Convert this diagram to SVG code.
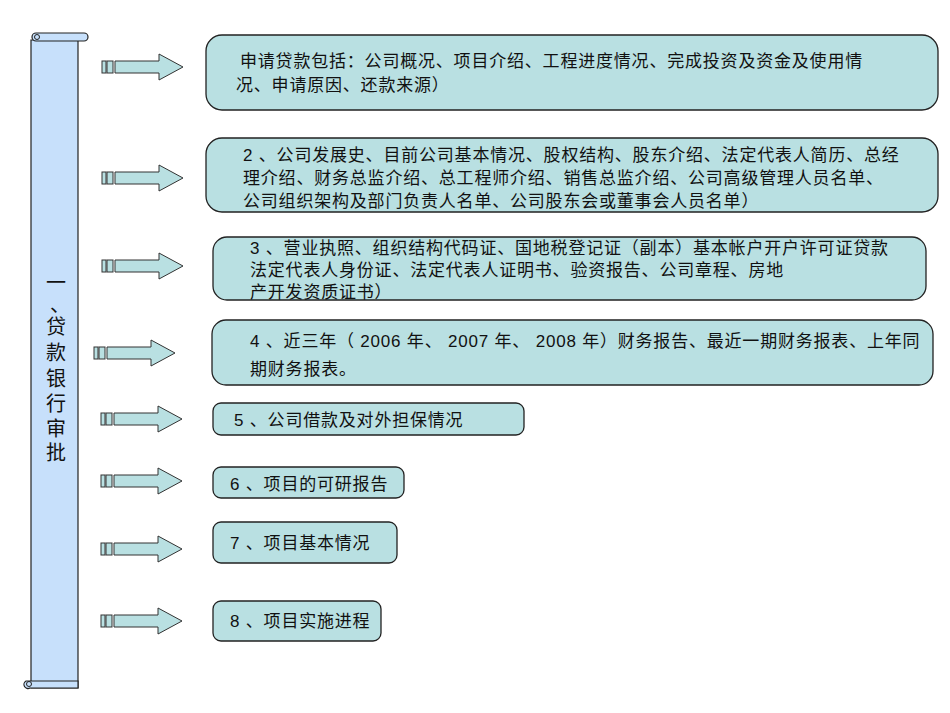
<svg xmlns="http://www.w3.org/2000/svg" xmlns:xlink="http://www.w3.org/1999/xlink" width="950" height="713" viewBox="0 0 950 713">
<style>
.box{fill:#b9e0e2;stroke:#222;stroke-width:1.3}
.t{font-family:"Liberation Sans","Noto Sans CJK SC",sans-serif;font-size:17px;letter-spacing:0.8px;fill:#111}
.v{font-family:"Liberation Sans","Noto Sans CJK SC",sans-serif;font-size:20px;fill:#111}
.ar{fill:#b9e0e2;stroke:#333;stroke-width:1}
</style>
<defs>
<g id="arrow">
<rect class="ar" x="0" y="-6" width="4" height="12"/>
<rect class="ar" x="5" y="-6" width="6" height="12"/>
<path class="ar" d="M13,-6 H57 V-13 L81,0 L57,13 V6 H13 Z"/>
</g>
</defs>
<g id="scroll">
<path d="M31,40 V688 H78 V40 Z" fill="#c7e0fb" stroke="#222" stroke-width="1.2"/>
<path d="M36,33 H84 a4,4 0 0 1 0,8 H36 a4,4 0 0 1 0,-8 Z" fill="#c7e0fb" stroke="#222" stroke-width="1.2"/>
<circle cx="37" cy="37" r="2.5" fill="none" stroke="#222"/>
<path d="M26,681 H78 V688 H30 a3.5,3.5 0 0 1 -4,-7 Z" fill="#c7e0fb" stroke="#222" stroke-width="1.2"/>
<circle cx="29" cy="684" r="2.5" fill="none" stroke="#222"/>
<g class="v" text-anchor="middle">
<text x="56" y="290">一</text><text x="60" y="312">、</text><text x="56" y="334">贷</text><text x="56" y="360">款</text><text x="56" y="386">银</text><text x="56" y="411">行</text><text x="56" y="436">审</text><text x="56" y="460">批</text>
</g>
</g>
<g id="connectors">
<use xlink:href="#arrow" x="102" y="67"/>
<use xlink:href="#arrow" x="102" y="178"/>
<use xlink:href="#arrow" x="102" y="266"/>
<use xlink:href="#arrow" x="94" y="353"/>
<use xlink:href="#arrow" x="101" y="419"/>
<use xlink:href="#arrow" x="101" y="481"/>
<use xlink:href="#arrow" x="101" y="549"/>
<use xlink:href="#arrow" x="101" y="621"/>
</g>
<g id="n1"><rect class="box" x="206" y="35" width="732" height="75" rx="16"/>
<text class="t" x="240" y="67">申请贷款包括：公司概况、项目介绍、工程进度情况、完成投资及资金及使用情</text>
<text class="t" x="236" y="91">况、申请原因、还款来源）</text></g>
<g id="n2"><rect class="box" x="206" y="138" width="732" height="74" rx="16"/>
<text class="t" x="243" y="161">2 、公司发展史、目前公司基本情况、股权结构、股东介绍、法定代表人简历、总经</text>
<text class="t" x="243" y="184">理介绍、财务总监介绍、总工程师介绍、销售总监介绍、公司高级管理人员名单、</text>
<text class="t" x="243" y="207">公司组织架构及部门负责人名单、公司股东会或董事会人员名单）</text></g>
<g id="n3"><rect class="box" x="213" y="237" width="713" height="63" rx="14"/>
<text class="t" x="250" y="254">3 、营业执照、组织结构代码证、国地税登记证（副本）基本帐户开户许可证贷款</text>
<text class="t" x="250" y="276">法定代表人身份证、法定代表人证明书、验资报告、公司章程、房地</text>
<text class="t" x="250" y="298">产开发资质证书）</text></g>
<g id="n4"><rect class="box" x="212" y="320" width="721" height="65" rx="14"/>
<text class="t" x="250" y="347">4 、近三年（ 2006 年、 2007 年、 2008 年）财务报告、最近一期财务报表、上年同</text>
<text class="t" x="250" y="375">期财务报表。</text></g>
<g id="n5"><rect class="box" x="213" y="403" width="311" height="32" rx="8"/>
<text class="t" x="234" y="426">5 、公司借款及对外担保情况</text></g>
<g id="n6"><rect class="box" x="213" y="467" width="191" height="31" rx="8"/>
<text class="t" x="230" y="490">6 、项目的可研报告</text></g>
<g id="n7"><rect class="box" x="213" y="522" width="184" height="41" rx="8"/>
<text class="t" x="230" y="549">7 、项目基本情况</text></g>
<g id="n8"><rect class="box" x="213" y="601" width="168" height="40" rx="8"/>
<text class="t" x="230" y="627">8 、项目实施进程</text></g>
</svg>
